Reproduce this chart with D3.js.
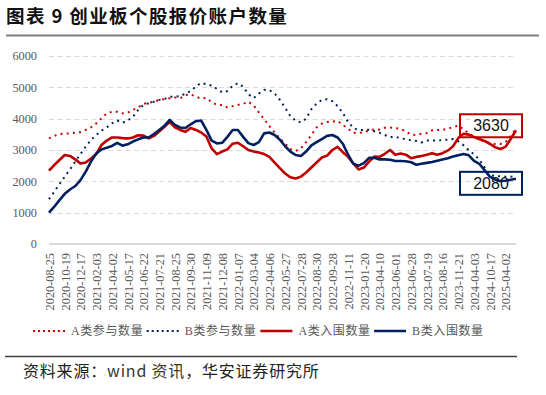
<!DOCTYPE html>
<html>
<head>
<meta charset="utf-8">
<script src="https://cdn.jsdelivr.net/npm/d3@7"></script>
<style>
  body { margin: 0; background: #fff; }
  svg { display: block; }
</style>
</head>
<body>
<svg id="chart" width="546" height="395"></svg>
<script>
// tick labels on the x axis (one every 3 points)
const dateLabels = ['2020-08-25', '2020-10-19', '2020-12-17', '2021-02-03', '2021-04-02', '2021-05-17',
  '2021-06-22', '2021-07-21', '2021-08-25', '2021-09-30', '2021-11-09', '2021-12-08', '2022-01-07',
  '2022-03-04', '2022-04-06', '2022-05-27', '2022-07-28', '2022-08-30', '2022-09-28', '2022-11-11',
  '2023-01-20', '2023-04-10', '2023-06-01', '2023-06-28', '2023-07-19', '2023-08-16', '2023-11-21',
  '2024-04-03', '2024-10-17', '2025-04-02']

// A类参与数量
const aJoin = [3370, 3450, 3510, 3530, 3530, 3550, 3570, 3640, 3720, 3850,
  4010, 4170, 4220, 4220, 4170, 4190, 4280, 4360, 4470, 4510,
  4540, 4600, 4620, 4650, 4680, 4650, 4750, 4780, 4700, 4640,
  4660, 4530, 4440, 4440, 4360, 4400, 4440, 4470, 4540, 4420,
  4200, 3980, 3760, 3560, 3370, 3200, 3030, 2970, 3050, 3250,
  3480, 3720, 3840, 3890, 3910, 3930, 3800, 3680, 3550, 3540,
  3570, 3620, 3660, 3650, 3710, 3720, 3700, 3670, 3600, 3490,
  3480, 3520, 3540, 3630, 3640, 3640, 3680, 3730, 3780, 3660,
  3530, 3420, 3330, 3280, 3220, 3190, 3190, 3250, 3450, 3680]

// B类参与数量
const bJoin = [1430, 1670, 1910, 2150, 2380, 2630, 2870, 3110, 3320, 3480,
  3620, 3720, 3850, 3940, 3870, 3940, 4060, 4280, 4440, 4490,
  4540, 4600, 4630, 4700, 4700, 4720, 4800, 4880, 5030, 5140,
  5100, 5060, 4950, 4840, 4880, 5050, 5130, 5020, 4780, 4660,
  4800, 4920, 4910, 4800, 4600, 4350, 4080, 3940, 3880, 4000,
  4300, 4480, 4600, 4620, 4560, 4400, 4180, 3900, 3700, 3640,
  3640, 3650, 3600, 3550, 3480, 3410, 3420, 3380, 3340, 3310,
  3290, 3240, 3300, 3300, 3300, 3320, 3330, 3350, 3280, 3150,
  2990, 2860, 2700, 2450, 2220, 2160, 2160, 2150, 2150, 2160]

// A类入围数量
const aIn = [2340, 2520, 2680, 2840, 2810, 2700, 2570, 2600, 2730, 2870,
  3160, 3300, 3400, 3400, 3380, 3370, 3400, 3470, 3460, 3370,
  3450, 3590, 3740, 3900, 3720, 3640, 3580, 3700, 3640, 3560,
  3430, 3050, 2870, 2950, 3020, 3200, 3230, 3120, 3000, 2950,
  2920, 2870, 2780, 2600, 2420, 2250, 2130, 2090, 2150, 2280,
  2440, 2600, 2760, 2820, 3000, 3100, 2930, 2780, 2570, 2380,
  2440, 2630, 2790, 2780, 2880, 3000, 2850, 2890, 2850, 2740,
  2780, 2810, 2850, 2900, 2850, 2900, 2980, 3120, 3380, 3520,
  3490, 3420, 3350, 3290, 3200, 3090, 3030, 3100, 3350, 3630]

// B类入围数量
const bIn = [1000, 1190, 1400, 1600, 1740, 1850, 2040, 2310, 2630, 2890,
  3020, 3070, 3130, 3230, 3140, 3180, 3270, 3340, 3400, 3400,
  3510, 3640, 3770, 3960, 3800, 3720, 3700, 3820, 3920, 3940,
  3640, 3300, 3210, 3230, 3420, 3640, 3640, 3420, 3220, 3160,
  3250, 3530, 3560, 3480, 3330, 3120, 2950, 2840, 2810, 2950,
  3150, 3250, 3350, 3450, 3480, 3400, 3200, 2850, 2560, 2500,
  2580, 2750, 2750, 2700, 2700, 2690, 2650, 2650, 2640, 2610,
  2530, 2560, 2590, 2620, 2660, 2700, 2740, 2790, 2830, 2870,
  2830, 2650, 2560, 2360, 2150, 2060, 2010, 2020, 2050, 2080]

const yTicks = [0, 1000, 2000, 3000, 4000, 5000, 6000]
const labelEvery = 3

const RED = '#C00000'
const NAVY = '#002060'
const GREY = '#595959'

const series = [
  { name: 'A类参与数量', values: aJoin, color: '#D40000', dotted: true },
  { name: 'B类参与数量', values: bJoin, color: NAVY, dotted: true },
  { name: 'A类入围数量', values: aIn, color: RED, dotted: false },
  { name: 'B类入围数量', values: bIn, color: NAVY, dotted: false }
]

const svg = d3.select('#chart')

const plot = { left: 49, right: 516, top: 56, bottom: 244 }

const x = d3.scaleLinear().domain([0, aJoin.length - 1]).range([plot.left, plot.right])
const y = d3.scaleLinear().domain([0, 6000]).range([plot.bottom, plot.top])

// title and rule
svg.append('text')
  .attr('x', 6)
  .attr('y', 23)
  .attr('font-family', '"Noto Sans CJK SC", sans-serif')
  .attr('font-weight', 700)
  .attr('font-size', 18.5)
  .attr('letter-spacing', 1.4)
  .attr('fill', '#111')
  .text('图表 9 创业板个股报价账户数量')

svg.append('line')
  .attr('x1', 6).attr('x2', 539)
  .attr('y1', 35.5).attr('y2', 35.5)
  .attr('stroke', '#7f7f7f')
  .attr('stroke-width', 2)

// dashed grid
svg.append('g')
  .selectAll('line')
  .data(yTicks.filter(d => d > 0))
  .join('line')
  .attr('x1', plot.left).attr('x2', 514)
  .attr('y1', d => Math.round(y(d)) + 0.5)
  .attr('y2', d => Math.round(y(d)) + 0.5)
  .attr('stroke', '#d9d9d9')
  .attr('stroke-width', 1)
  .attr('stroke-dasharray', '5,3.5')

// baseline
svg.append('line')
  .attr('x1', plot.left).attr('x2', plot.right)
  .attr('y1', y(0)).attr('y2', y(0))
  .attr('stroke', '#d9d9d9')
  .attr('stroke-width', 2)

// y axis
const yAxis = svg.append('g')
  .attr('transform', 'translate(37,0)')
  .call(d3.axisLeft(y).tickValues(yTicks).tickSize(0).tickPadding(0).tickFormat(d3.format('d')))
yAxis.select('.domain').remove()
yAxis.selectAll('text')
  .attr('font-family', '"Liberation Serif", serif')
  .attr('font-size', 12.3)
  .attr('fill', GREY)

// x axis
const xAxis = svg.append('g')
  .attr('transform', 'translate(0,' + y(0) + ')')
  .call(d3.axisBottom(x)
    .tickValues(dateLabels.map((d, j) => j * labelEvery))
    .tickSize(0)
    .tickFormat((d, j) => dateLabels[j]))
xAxis.select('.domain').remove()
xAxis.selectAll('text')
  .attr('transform', 'rotate(-90)')
  .attr('text-anchor', 'end')
  .attr('x', -9)
  .attr('y', 0)
  .attr('dy', '0.35em')
  .attr('font-family', '"Liberation Serif", serif')
  .attr('font-size', 12.3)
  .attr('fill', GREY)

// end value boxes
const last = aIn.length - 1
const callouts = [
  { value: aIn[last], color: RED, dy: -16 },
  { value: bIn[last], color: NAVY, dy: -7 }
]
const box = svg.append('g').selectAll('g').data(callouts).join('g')
  .attr('transform', d => 'translate(' + (x(last) - 56) + ',' + (y(d.value) + d.dy) + ')')
box.append('rect')
  .attr('width', 62).attr('height', 23)
  .attr('fill', 'none')
  .attr('stroke', d => d.color)
  .attr('stroke-width', 2)
box.append('text')
  .attr('x', 31).attr('y', 17)
  .attr('text-anchor', 'middle')
  .attr('font-family', '"Liberation Sans", Arial, sans-serif')
  .attr('font-size', 16)
  .attr('fill', '#111')
  .text(d => d.value)

// lines
const line = d3.line().x((d, i) => x(i)).y(d => y(d))
svg.append('g')
  .selectAll('path')
  .data(series)
  .join('path')
  .attr('d', d => line(d.values))
  .attr('fill', 'none')
  .attr('stroke', d => d.color)
  .attr('stroke-width', d => d.dotted ? 2 : 2.6)
  .attr('stroke-dasharray', d => d.dotted ? '2,4.2' : null)
  .attr('stroke-linejoin', 'round')

// legend
const legend = svg.append('g')
  .selectAll('g')
  .data(series)
  .join('g')
  .attr('transform', (d, k) => 'translate(' + (33 + k * 113.7) + ',331)')
legend.append('line')
  .attr('x1', 0).attr('x2', 32)
  .attr('stroke', d => d.color)
  .attr('stroke-width', d => d.dotted ? 2 : 2.6)
  .attr('stroke-dasharray', d => d.dotted ? '2,3' : null)
legend.append('text')
  .attr('x', 38)
  .attr('dy', '0.35em')
  .attr('font-family', '"Liberation Serif", "Noto Sans CJK SC", serif')
  .attr('font-size', 12)
  .attr('letter-spacing', 0.6)
  .attr('fill', GREY)
  .text(d => d.name)

// source
svg.append('line')
  .attr('x1', 5).attr('x2', 517)
  .attr('y1', 356.5).attr('y2', 356.5)
  .attr('stroke', '#404040')
  .attr('stroke-width', 1.5)

const src = svg.append('text')
  .attr('x', 23)
  .attr('y', 377)
  .attr('font-family', '"Noto Sans CJK SC", sans-serif')
  .attr('font-size', 16)
  .attr('letter-spacing', 0.8)
  .attr('fill', '#222')
src.append('tspan').text('资料来源：')
src.append('tspan').attr('fill', '#3d3826').text('wind 资讯')
src.append('tspan').text('，华安证券研究所')
</script>
</body>
</html>
